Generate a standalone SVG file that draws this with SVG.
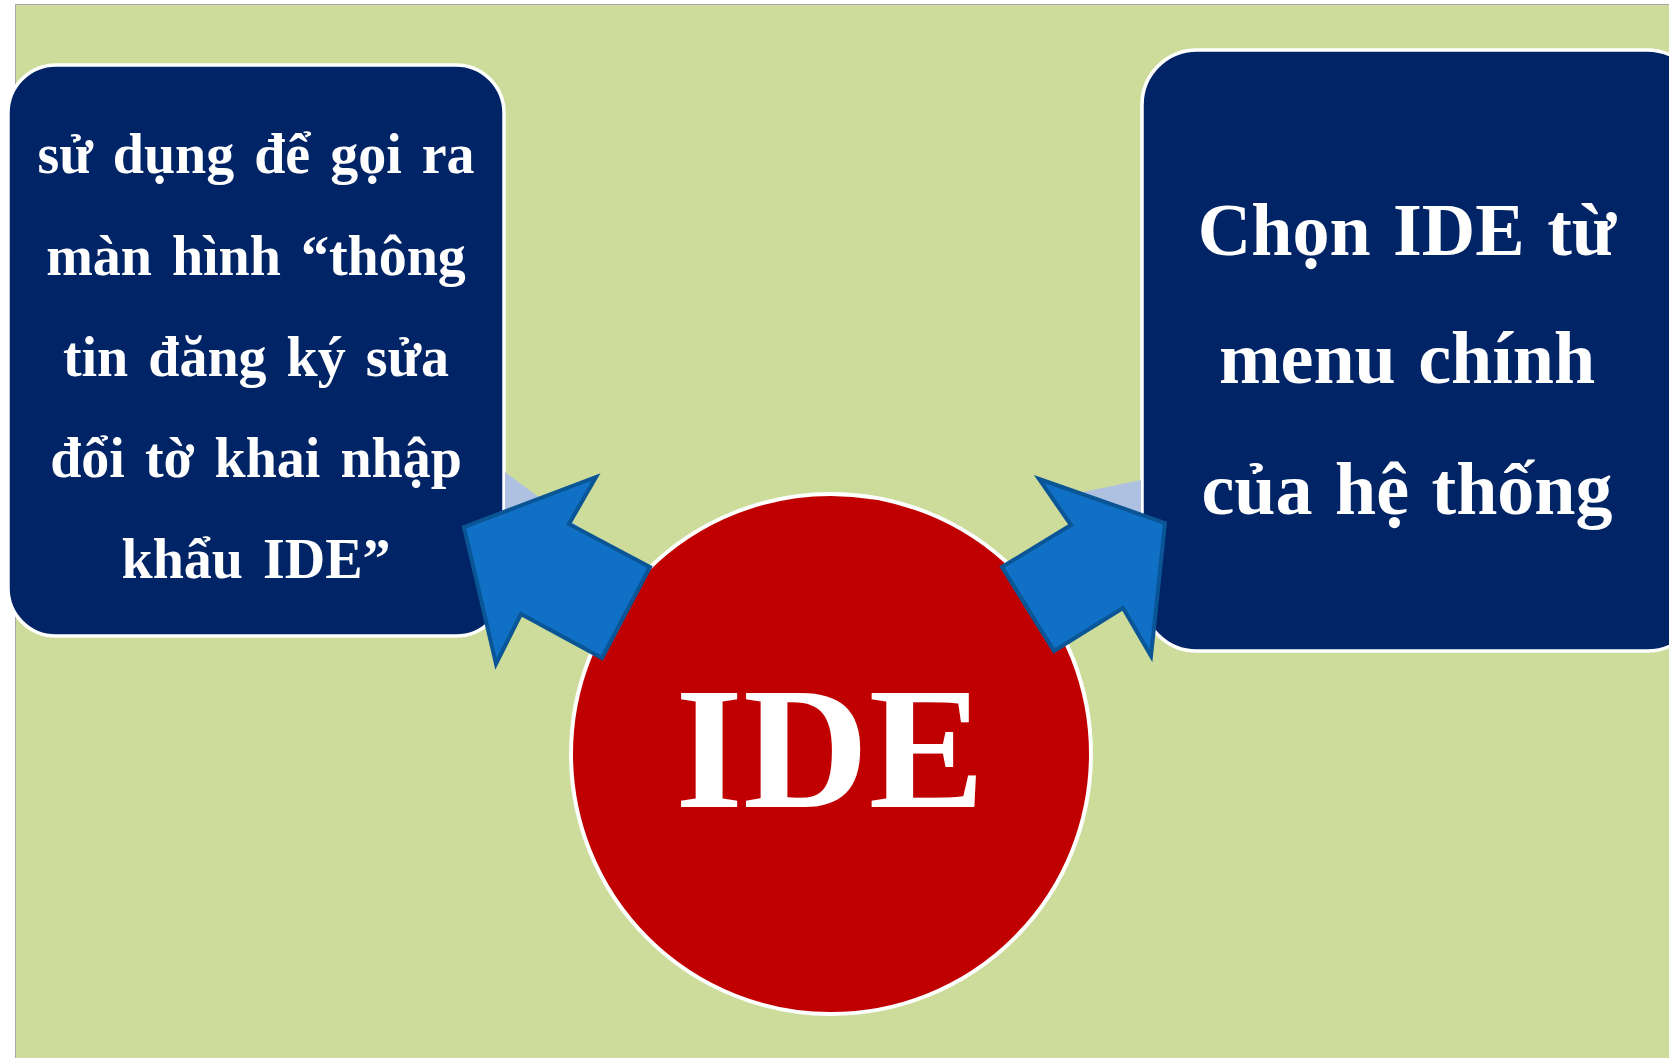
<svg xmlns="http://www.w3.org/2000/svg" width="1669" height="1058" viewBox="0 0 1669 1058">
<style>
.box{fill:#002465;stroke:#ffffff;stroke-width:3.5}
.t{font-family:"Liberation Serif","Times New Roman",serif;font-weight:bold;fill:#ffffff;text-anchor:middle}
.arrow{fill:#1070C6;stroke:#0A5595;stroke-width:4;stroke-linejoin:miter}
.shade{fill:#AFC1E1}
</style>
<rect x="0" y="0" width="1669" height="1058" fill="#ffffff"/>
<rect x="15.5" y="4.5" width="1660" height="1060" fill="#CDDC9A" stroke="#A8A8A8" stroke-width="1"/>
<g id="left-box">
<rect class="box" x="8" y="65" width="496" height="571" rx="48" ry="48"/>
<text class="t" font-size="56" word-spacing="6"><tspan x="256" y="173">sử dụng để gọi ra</tspan><tspan x="256" y="275">màn hình “thông</tspan><tspan x="256" y="376">tin đăng ký sửa</tspan><tspan x="256" y="477">đổi tờ khai nhập</tspan><tspan x="256" y="578">khẩu IDE”</tspan></text>
</g>
<g id="right-box">
<rect class="box" x="1142" y="50" width="560" height="601" rx="55" ry="55"/>
<text class="t" font-size="74" word-spacing="4"><tspan x="1407" y="255">Chọn IDE từ</tspan><tspan x="1407" y="383">menu chính</tspan><tspan x="1407" y="514">của hệ thống</tspan></text>
</g>
<g id="center">
<circle cx="831" cy="754" r="260" fill="#C00000" stroke="#ffffff" stroke-width="4"/>
<text class="t" x="830" y="807" font-size="174">IDE</text>
</g>
<g id="connectors">
<polygon class="shade" points="505,472 590,535 505,545"/>
<polygon class="shade" points="1083,492 1141,480 1141,535"/>
<polygon class="arrow" points="464,527 596,477 569,524 650,567 602,658 521,614 496,664"/>
<polygon class="arrow" points="1039,479 1165,523 1151,656 1123,608 1054,651 1002,567 1071,525"/>
</g>
</svg>
